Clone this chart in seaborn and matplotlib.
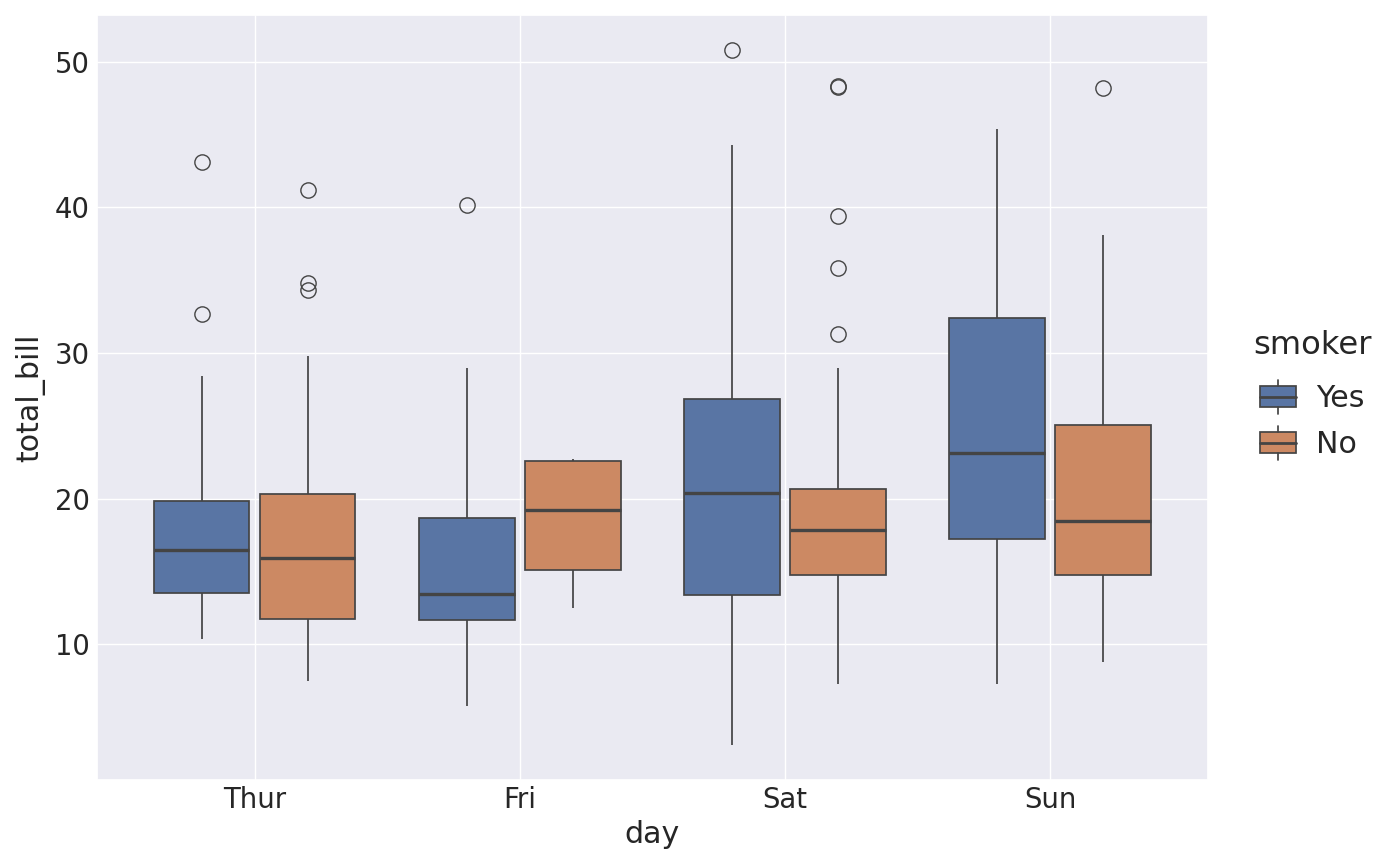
import matplotlib
matplotlib.use("Agg")
import matplotlib.pyplot as plt
from matplotlib.legend_handler import HandlerBase
from matplotlib.patches import Rectangle, Patch
from matplotlib.lines import Line2D
import seaborn as sns
import pandas as pd

days = ["Thur", "Fri", "Sat", "Sun"]
smoker_levels = ["Yes", "No"]

# total_bill observations per (day, smoker), read from the box/whisker/outlier positions
thur_yes = [10.34, 13.54, 13.54, 13.54, 16.47, 16.47, 16.47, 19.84, 19.84, 19.84, 28.44, 32.68, 43.11]
thur_no = [7.51, 11.71, 11.71, 11.71, 11.71, 15.95, 15.95, 15.95, 15.95,
           20.29, 20.29, 20.29, 20.29, 29.80, 34.30, 34.83, 41.19]
fri_yes = [5.75, 11.68, 11.68, 13.42, 13.42, 18.68, 18.68, 28.97, 40.17]
fri_no = [12.46, 15.12, 19.24, 22.61, 22.75]
sat_yes = [3.07, 13.40, 13.40, 20.39, 20.39, 26.84, 26.84, 44.30, 50.81]
sat_no = [7.25, 14.73, 14.73, 14.73, 14.73, 14.73, 14.73,
          17.86, 17.86, 17.86, 17.86, 17.86, 17.86,
          20.67, 20.67, 20.67, 20.67, 20.67, 20.67,
          28.97, 31.27, 35.83, 39.42, 48.27, 48.33]
sun_yes = [7.25, 17.22, 23.12, 32.42, 45.35]
sun_no = [8.77, 14.78, 14.78, 18.44, 18.44, 25.02, 25.02, 38.07, 48.17]

groups = {
    ("Thur", "Yes"): thur_yes, ("Thur", "No"): thur_no,
    ("Fri", "Yes"): fri_yes, ("Fri", "No"): fri_no,
    ("Sat", "Yes"): sat_yes, ("Sat", "No"): sat_no,
    ("Sun", "Yes"): sun_yes, ("Sun", "No"): sun_no,
}
rows = [(d, s, v) for (d, s), vals in groups.items() for v in vals]
df = pd.DataFrame(rows, columns=["day", "smoker", "total_bill"])

sns.set_theme(style="darkgrid", context="notebook", font_scale=1.8)
plt.rcParams.update({
    "xtick.major.size": 0, "ytick.major.size": 0,
    "xtick.major.pad": 4.5, "ytick.major.pad": 5.0,
})

LINE = "#444444"
LW = 1.25

fig = plt.figure(figsize=(14, 8.66), dpi=100)
ax = fig.add_axes([0.069, 0.0993, 0.794, 0.8834])
sns.boxplot(data=df, x="day", y="total_bill", hue="smoker",
            order=days, hue_order=smoker_levels, gap=0.1, ax=ax,
            linecolor=LINE, linewidth=LW, fliersize=11, showcaps=False,
            medianprops={"linewidth": 2.4},
            flierprops={"markeredgewidth": 1.0})
ax.set_xlim(-0.596, 3.596)
ax.grid(True, axis="x", color="white", linewidth=1)
ax.set_axisbelow(True)
ax.yaxis.labelpad = 7


class BoxHandler(HandlerBase):
    def create_artists(self, legend, orig_handle, xdescent, ydescent,
                       width, height, fontsize, trans):
        fc = orig_handle.get_facecolor()
        x0, y0 = -xdescent, -ydescent
        bh = height * 0.66
        by = y0 + (height - bh) / 2
        rect = Rectangle((x0, by), width, bh, facecolor=fc, edgecolor=LINE,
                         linewidth=LW, transform=trans)
        xm = x0 + width / 2
        med = Line2D([x0, x0 + width], [y0 + height / 2] * 2, color=LINE,
                     linewidth=2.0, transform=trans)
        wt = Line2D([xm, xm], [by + bh, y0 + height + 1], color=LINE,
                    linewidth=LW, transform=trans)
        wb = Line2D([xm, xm], [by, y0 - 1], color=LINE,
                    linewidth=LW, transform=trans)
        return [rect, wt, wb, med]


pal = sns.color_palette("deep", 2)
sat_cols = [sns.desaturate(c, 0.75) for c in pal]
handles = [Patch(facecolor=c, label=l) for c, l in zip(sat_cols, smoker_levels)]
old = ax.get_legend()
if old is not None:
    old.remove()
leg = ax.legend(handles=handles, labels=smoker_levels, title="smoker",
                loc="center left", bbox_to_anchor=(1.016, 0.504), frameon=False,
                handler_map={Patch: BoxHandler()}, handlelength=1.2, handleheight=1.23,
                handletextpad=0.66, labelspacing=0.47, fontsize=21.6,
                title_fontsize=23.2)
leg._legend_box.sep = 14.4
fig.savefig("out.png", dpi=100)
